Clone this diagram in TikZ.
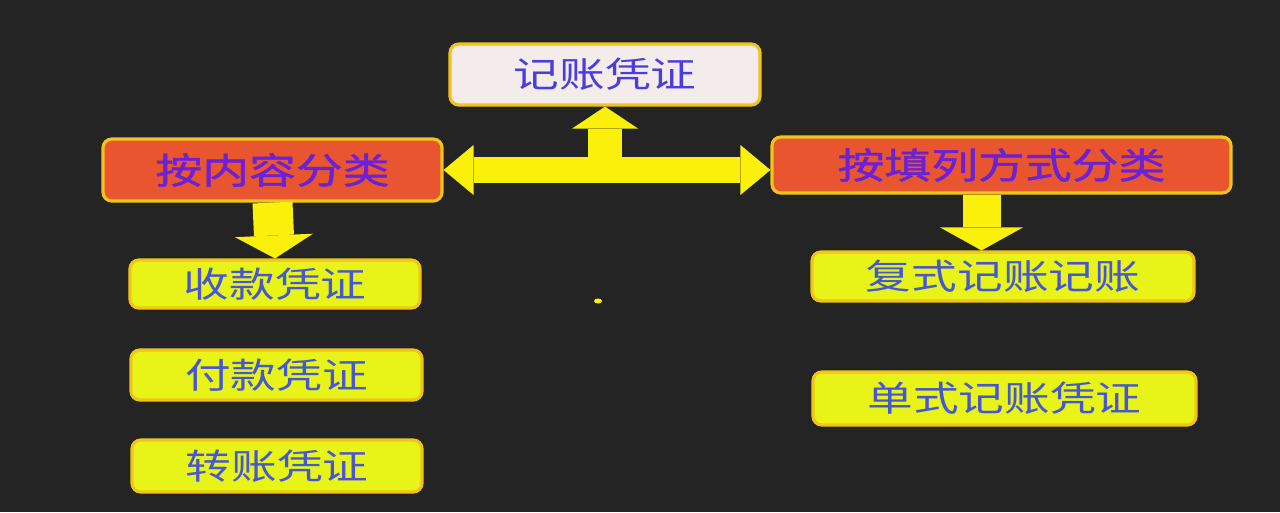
\documentclass[tikz,border=0pt]{standalone}
\usepackage{fontspec}
\newfontfamily\cjk[FakeStretch=1.3]{Noto Sans CJK SC}
\newfontfamily\cjkheavy[FakeStretch=1.3,FakeBold=1.2]{Noto Sans CJK SC}
\usetikzlibrary{arrows.meta}
\definecolor{bg}{HTML}{242424}
\definecolor{boxedge}{HTML}{F0C419}
\definecolor{topfill}{HTML}{F4ECEB}
\definecolor{topblue}{HTML}{4A3CE0}
\definecolor{classred}{HTML}{E8552F}
\definecolor{classpurple}{HTML}{6B22D6}
\definecolor{itemyellow}{HTML}{E8F418}
\definecolor{itemblue}{HTML}{4458D2}
\definecolor{arrowyellow}{HTML}{FAF00A}
\begin{document}
\begin{tikzpicture}[
    every node/.style={align=center, font=\cjk\fontsize{20}{24}\selectfont},
    base box/.style={draw=boxedge, line width=1.8pt, rounded corners=5pt, inner sep=0pt},
    title box/.style={base box, fill=topfill, text=topblue, minimum width=6.2cm, minimum height=1.22cm},
    class box/.style={base box, fill=classred, text=classpurple, font=\cjkheavy\fontsize{20.5}{24}\selectfont},
    item box/.style={base box, fill=itemyellow, text=itemblue},
    block arrow/.style={draw=arrowyellow, line width=#1},
    ]
\fill[bg] (0,0) rectangle (25.6,-10.24);
\useasboundingbox (0,0) rectangle (25.6,-10.24);
\node[title box] (JZ) at (12.1,-1.49) {记账凭证};
\node[class box, minimum width=6.78cm, minimum height=1.24cm] (NR) at (5.45,-3.40) {按内容分类};
\node[class box, minimum width=9.18cm, minimum height=1.12cm] (TL) at (20.03,-3.30) {按填列方式分类};
\node[item box, minimum width=5.8cm, minimum height=0.96cm] (SK) at (5.50,-5.68) {收款凭证};
\node[item box, minimum width=5.82cm, minimum height=1.0cm] (FK) at (5.53,-7.50) {付款凭证};
\node[item box, minimum width=5.8cm, minimum height=1.04cm] (ZZ) at (5.54,-9.32) {转账凭证};
\node[item box, minimum width=7.64cm, minimum height=0.98cm] (FS) at (20.06,-5.53) {复式记账记账};
\node[item box, minimum width=7.66cm, minimum height=1.06cm] (DS) at (20.09,-7.97) {单式记账凭证};
\coordinate (mid) at (JZ.south |- NR.east);
\coordinate (TLdown) at ([xshift=-0.4cm]TL.south);
\draw[block arrow=0.68cm, -{Triangle[length=0.44cm,width=1.32cm,line width=0pt]}] (mid) -- (JZ.south);
\draw[block arrow=0.52cm, {Triangle[length=0.6cm,width=1.0cm,line width=0pt]}-{Triangle[length=0.6cm,width=1.0cm,line width=0pt]}] (NR.east) -- (NR.east -| TL.west);
\draw[block arrow=0.8cm, -{Triangle[length=0.46cm,width=1.56cm,line width=0pt]}] (NR.south) -- (SK.north);
\draw[block arrow=0.76cm, -{Triangle[length=0.46cm,width=1.66cm,line width=0pt]}] (TLdown) -- (TLdown |- FS.north);
\fill[arrowyellow] (11.96,-6.02) ellipse (0.08 and 0.05);
\end{tikzpicture}
\end{document}
